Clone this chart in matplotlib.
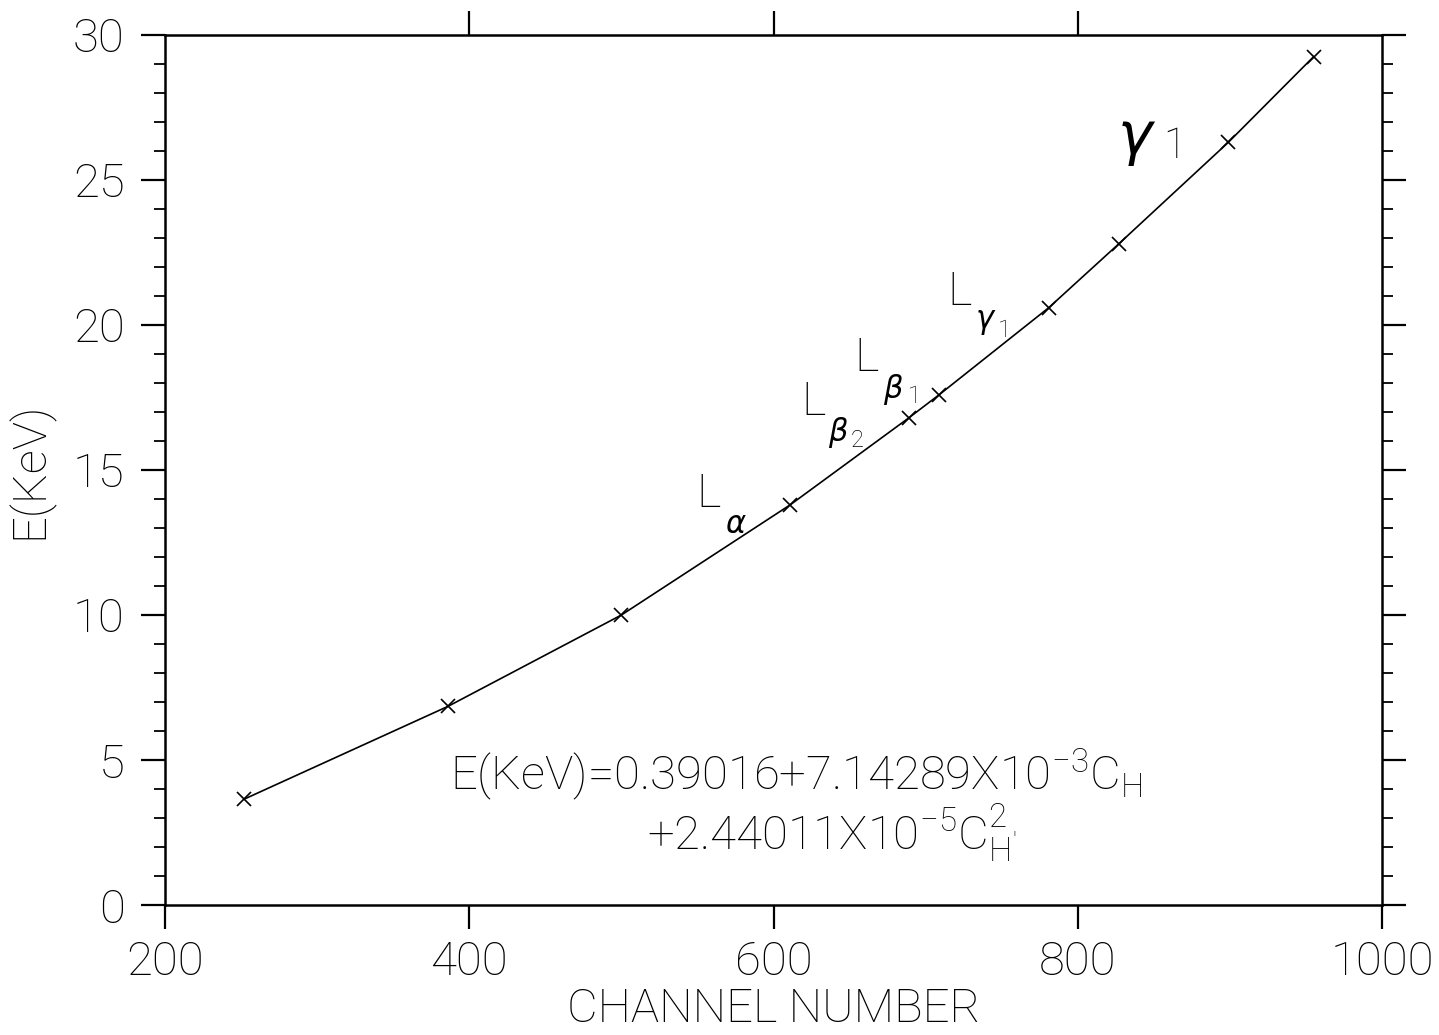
import matplotlib
matplotlib.use("Agg")
import matplotlib.pyplot as plt
from matplotlib.ticker import MultipleLocator, FixedLocator

# channel number vs. energy of the calibration lines
channel = [252, 386, 500, 611, 689, 709, 781, 827, 899, 955]
energy = [3.65, 6.85, 10.0, 13.8, 16.8, 17.6, 20.6, 22.8, 26.3, 29.25]

x_ticks = [200, 400, 600, 800, 1000]
x_top_ticks = [400, 600, 800]
y_ticks = [0, 5, 10, 15, 20, 25, 30]

FONT = "Roboto"
plt.rcParams["font.family"] = [FONT, "DejaVu Sans"]
plt.rcParams["font.weight"] = "light"
plt.rcParams["axes.labelweight"] = "light"
plt.rcParams["mathtext.fontset"] = "custom"
plt.rcParams["mathtext.rm"] = FONT + ":light"
plt.rcParams["mathtext.it"] = "DejaVu Sans:italic"
plt.rcParams["mathtext.default"] = "regular"

fig = plt.figure(figsize=(14.39, 10.35), dpi=100)
ax = fig.add_axes([0.1147, 0.1256, 0.8457, 0.8406])

ax.plot(channel, energy, color="black", lw=1.2, marker="x", ms=10, mew=1.2)

ax.set_xlim(200, 1000)
ax.set_ylim(0, 30)
for s in ax.spines.values():
    s.set_linewidth(1.8)

ax.xaxis.set_major_locator(FixedLocator(x_ticks))
ax.yaxis.set_major_locator(FixedLocator(y_ticks))
ax.yaxis.set_minor_locator(MultipleLocator(1))
ax.tick_params(axis="both", which="major", direction="out", length=17, width=1.6,
               labelsize=34, left=True, right=True, bottom=True, top=False,
               labelright=False)
ax.tick_params(axis="y", which="major", pad=12)
ax.tick_params(axis="x", which="major", pad=8)
ax.tick_params(axis="y", which="minor", direction="out", length=8, width=1.3,
               left=True, right=True)

top = ax.secondary_xaxis("top")
top.xaxis.set_major_locator(FixedLocator(x_top_ticks))
top.tick_params(direction="out", length=17, width=1.6, labeltop=False)
top.spines["top"].set_visible(False)

ax.set_xlabel("CHANNEL NUMBER", fontsize=34, labelpad=2)
ax.set_ylabel("E(KeV)", fontsize=34, labelpad=14)

# line labels: "L", greek letter, index digit
def line_label(xl, yl, greek, xg, yg, digit=None, xd=None, yd=None):
    ax.text(xl, yl, "L", fontsize=34, ha="left", va="baseline")
    ax.text(xg, yg, r"$\mathit{\%s}$" % greek, fontsize=22, ha="left", va="top")
    if digit:
        ax.text(xd, yd, digit, fontsize=17, ha="left", va="baseline")

line_label(549, 13.72, "alpha", 568, 13.62)
line_label(618, 16.9, "beta", 636, 16.9, "2", 650.5, 15.8)
line_label(653, 18.41, "beta", 672, 18.38, "1", 688, 17.31)
line_label(714, 20.69, "gamma", 732.5, 20.59, "1", 747.6, 19.59)

ax.text(826, 27.3, r"$\mathit{\gamma}$", fontsize=42, ha="left", va="top")
ax.text(856, 25.75, "1", fontsize=30, ha="left", va="baseline")

ax.text(387, 3.97, r"E(KeV)=0.39016+7.14289X10$^{-3}$C$_{H}$",
        fontsize=34, ha="left", va="baseline")
ax.text(517, 1.9, r"+2.44011X10$^{-5}$C$^{2}_{H'}$",
        fontsize=34, ha="left", va="baseline")

fig.savefig("out.png", dpi=100)
